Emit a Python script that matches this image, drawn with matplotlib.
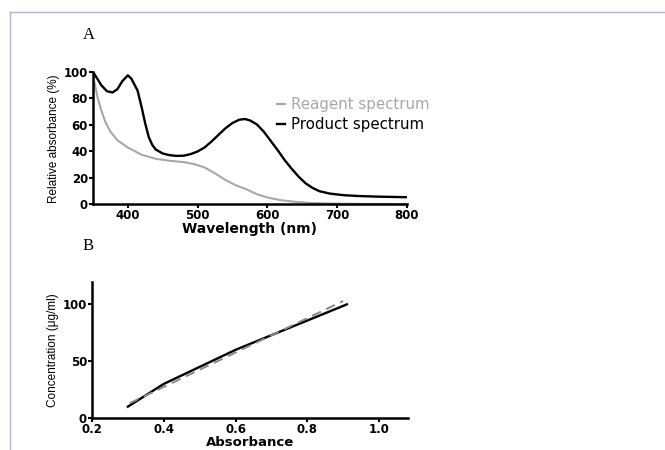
import matplotlib
matplotlib.use("Agg")
import matplotlib.pyplot as plt
from matplotlib.lines import Line2D

# Panel A: spectra
product_wl = [350, 355, 362, 370, 378, 385, 392, 400, 405, 410, 414, 420, 425, 430, 435, 440,
              450, 460, 470, 480, 490, 500, 510, 520, 530, 540, 550, 560, 568, 575, 585, 595,
              605, 615, 625, 635, 645, 655, 665, 675, 690, 710, 730, 760, 800]
product_abs = [100, 96, 90, 85.5, 84.5, 87, 93, 97.5, 95, 90, 86, 73, 61, 51, 45, 41.5,
               38.5, 37.2, 36.7, 36.8, 38, 40, 43, 47.5, 52.5, 57.5, 61.5, 64, 64.5, 63.5, 60.5, 55,
               48, 41, 33.5, 27, 21, 16, 12.5, 10, 8.2, 7, 6.4, 5.9, 5.5]
reagent_wl = [350, 353, 357, 362, 368, 375, 385, 400, 420, 440, 460, 480, 495, 510, 525, 540,
              555, 570, 585, 600, 620, 640, 660, 690, 740, 800]
reagent_abs = [97, 90, 80, 71, 62, 55, 48.5, 43, 37.5, 34.5, 33, 32, 30.5, 28, 23.5, 18.5,
               14.5, 11.5, 7.8, 5.3, 3.2, 2, 1.2, 0.7, 0.4, 0.3]
wl_ticks = [400, 500, 600, 700, 800]
abs_ticks = [0, 20, 40, 60, 80, 100]

# Panel B: calibration
calib_abs = [0.30, 0.40, 0.60, 0.91]
calib_conc = [10, 30, 60, 100]
fit_abs = [0.305, 0.90]
fit_conc = [13, 103]
b_xticks = [0.2, 0.4, 0.6, 0.8, 1.0]
b_yticks = [0, 50, 100]

narrow = ['Liberation Sans Narrow', 'Liberation Sans', 'DejaVu Sans']
gray = '#a8a8a8'


def StyleAxes(ax):
    for s in ['top', 'right']:
        ax.spines[s].set_visible(False)
    for s in ['left', 'bottom']:
        ax.spines[s].set_linewidth(1.8)
    ax.tick_params(width=1.5, length=3, labelsize=8.5, pad=0.5)
    for lab in ax.get_xticklabels() + ax.get_yticklabels():
        lab.set_fontweight('bold')


fig = plt.figure(figsize=(6.65, 4.5), dpi=100)

# thin frame lines from the page
fig.add_artist(Line2D([10/665, 10/665], [0, 1 - 12/450], color='#b4b4e0', lw=1))
fig.add_artist(Line2D([10/665, 1], [1 - 12/450, 1 - 12/450], color='#b4b4e0', lw=1))

axA = fig.add_axes([0.1398, 0.5456, 0.4717, 0.2944])
axA.plot(reagent_wl, reagent_abs, color=gray, lw=1.5, label='Reagent spectrum')
axA.plot(product_wl, product_abs, color='black', lw=1.7, label='Product spectrum')
axA.set_xlim(350, 800)
axA.set_ylim(0, 100)
axA.set_xticks(wl_ticks)
axA.set_yticks(abs_ticks)
StyleAxes(axA)
axA.set_xlabel('Wavelength (nm)', fontsize=10, fontweight='bold', labelpad=0)
axA.set_ylabel('Relative absorbance (%)', fontsize=8.5, family=narrow, labelpad=3)
axA.legend(loc='upper left', bbox_to_anchor=(0.545, 0.915), frameon=False, fontsize=10.8,
           handlelength=0.5, handletextpad=0.4, labelspacing=0.35, labelcolor='linecolor')
fig.text(89/665, 1 - 35/450, 'A', family='Liberation Serif', fontsize=12, va='center', ha='center')

axB = fig.add_axes([0.1383, 0.0711, 0.475, 0.303])
axB.plot(calib_abs, calib_conc, color='black', lw=1.7)
axB.plot(fit_abs, fit_conc, color='#888888', lw=1.4, ls=(0, (5, 3)))
axB.set_xlim(0.2, 1.08)
axB.set_ylim(0, 120)
axB.set_xticks(b_xticks)
axB.set_yticks(b_yticks)
StyleAxes(axB)
axB.set_xlabel('Absorbance', fontsize=9.5, fontweight='bold', labelpad=0)
axB.set_ylabel('Concentration (\u03bcg/ml)', fontsize=8.5, family=narrow, labelpad=3)
fig.text(88/665, 1 - 246/450, 'B', family='Liberation Serif', fontsize=12, va='center', ha='center')

fig.savefig('out.png', dpi=100)
